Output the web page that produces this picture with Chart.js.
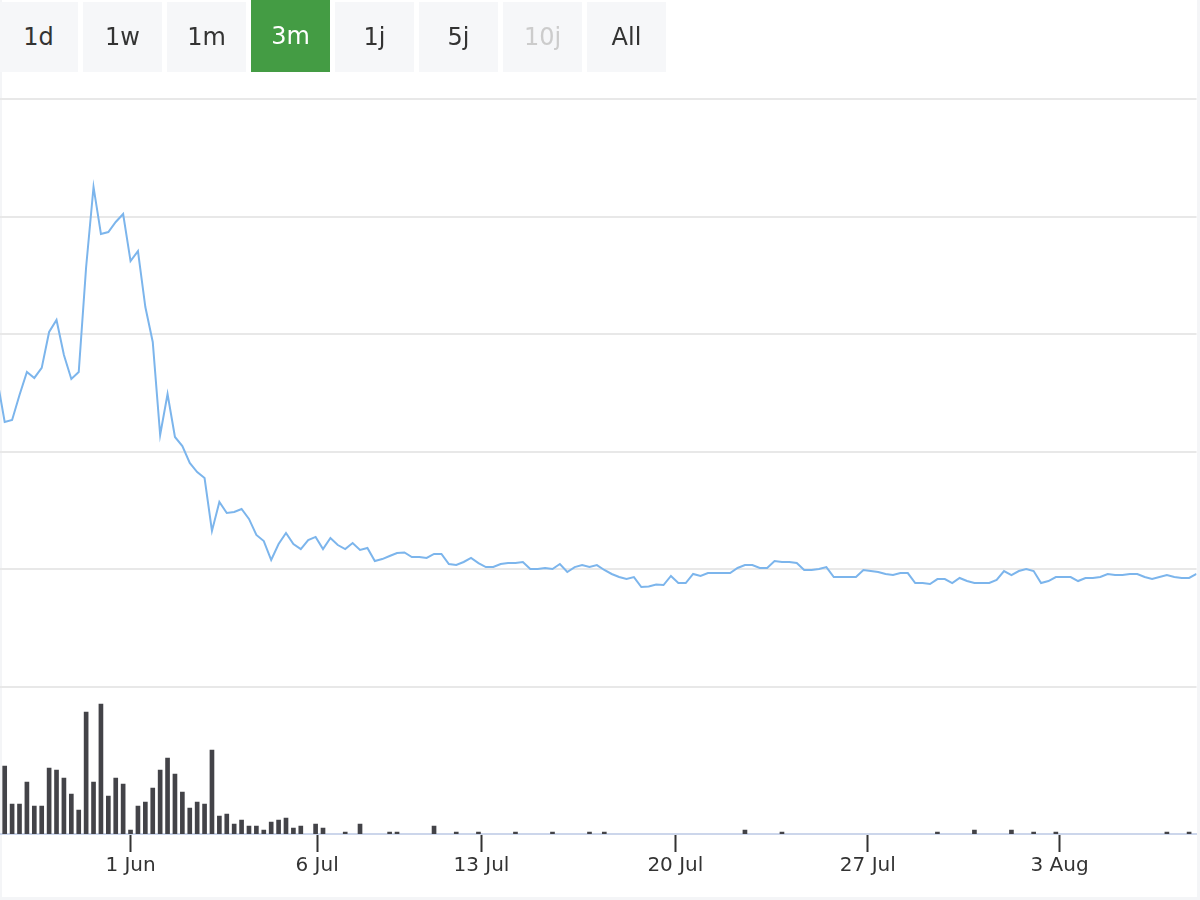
<!DOCTYPE html>
<html>
<head>
<meta charset="utf-8">
<script src="https://cdn.jsdelivr.net/npm/chart.js@4"></script>
<style>
    body { margin: 0; background: #fff; font-family: "DejaVu Sans", sans-serif; }
    #wrap { position: relative; width: 1200px; height: 900px; overflow: hidden; }
    #frame { position: absolute; left: 0; top: 0; width: 1195px; height: 897px;
             border-left: 2px solid #f4f5f7; border-right: 3px solid #f4f5f7; border-bottom: 3px solid #f4f5f7; }
    #chart { position: absolute; left: 0; top: 0; }
    .rng { position: absolute; top: 2px; height: 70px; width: 79px; background: #f6f7f9; color: #333;
           font-size: 24px; display: flex; align-items: center; justify-content: center; }
    .rng.on { top: 0; height: 72px; background: #449c44; color: #fff; }
    .rng.off { color: #ccc; }
</style>
</head>
<body>
<div id="wrap">
    <div id="frame"></div>
    <canvas id="chart" width="1200" height="900"></canvas>
</div>
<script>
// range buttons
const buttons = ['1d', '1w', '1m', '3m', '1j', '5j', '10j', 'All'];
const selected = '3m';
const disabled = ['10j'];

// x axis ticks (positions in data points, the axis is ordinal)
const tickPos = [17, 42.2, 64.4, 90.6, 116.6, 142.5];
const tickLabels = ['1 Jun', '6 Jul', '13 Jul', '20 Jul', '27 Jul', '3 Aug'];

// price line, first value is the point just left of the visible range
const prices = [
    26.11, 22.53, 22.70, 24.83, 26.79, 26.28, 27.13, 30.19, 31.21, 28.23, 26.19, 26.79,
    35.71, 42.52, 38.52, 38.69, 39.54, 40.22, 36.22, 37.07, 32.31, 29.34, 21.43, 24.91,
    21.26, 20.49, 19.05, 18.28, 17.77, 13.27, 15.73, 14.80, 14.88, 15.14, 14.29, 12.93,
    12.41, 10.80, 12.16, 13.10, 12.16, 11.73, 12.50, 12.76, 11.73, 12.67, 12.07, 11.73,
    12.24, 11.65, 11.82, 10.71, 10.88, 11.14, 11.39, 11.44, 11.05, 11.05, 10.97, 11.31,
    11.31, 10.46, 10.37, 10.63, 10.97, 10.54, 10.20, 10.20, 10.46, 10.54, 10.54, 10.63,
    10.03, 10.03, 10.12, 10.03, 10.46, 9.78, 10.20, 10.37, 10.20, 10.37, 9.95, 9.61,
    9.35, 9.18, 9.35, 8.50, 8.55, 8.72, 8.67, 9.44, 8.84, 8.84, 9.61, 9.44,
    9.69, 9.69, 9.69, 9.69, 10.12, 10.37, 10.37, 10.12, 10.12, 10.71, 10.63, 10.63,
    10.54, 9.95, 9.95, 10.03, 10.20, 9.35, 9.35, 9.35, 9.35, 9.95, 9.86, 9.78,
    9.61, 9.52, 9.69, 9.69, 8.84, 8.84, 8.76, 9.18, 9.18, 8.84, 9.27, 9.01,
    8.84, 8.84, 8.84, 9.10, 9.86, 9.52, 9.86, 10.03, 9.86, 8.84, 9.01, 9.35,
    9.35, 9.35, 9.01, 9.27, 9.27, 9.35, 9.61, 9.52, 9.52, 9.61, 9.61, 9.35,
    9.18, 9.35, 9.52, 9.35, 9.27, 9.27, 9.61
];

// volume bars, one per visible point
const volumes = [
    68, 30, 30, 52, 28, 28, 66, 64, 56, 40, 24, 122, 52, 130, 38, 56, 50, 4, 28, 32,
    46, 64, 76, 60, 42, 26, 32, 30, 84, 18, 20, 10, 14, 8, 8, 4, 12, 14, 16, 6,
    8, 0, 10, 6, 0, 0, 2, 0, 10, 0, 0, 0, 2, 2, 0, 0, 0, 0, 8, 0,
    0, 2, 0, 0, 2, 0, 0, 0, 0, 2, 0, 0, 0, 0, 2, 0, 0, 0, 0, 2,
    0, 2, 0, 0, 0, 0, 0, 0, 0, 0, 0, 0, 0, 0, 0, 0, 0, 0, 0, 0,
    4, 0, 0, 0, 0, 2, 0, 0, 0, 0, 0, 0, 0, 0, 0, 0, 0, 0, 0, 0,
    0, 0, 0, 0, 0, 0, 2, 0, 0, 0, 0, 4, 0, 0, 0, 0, 4, 0, 0, 2,
    0, 0, 2, 0, 0, 0, 0, 0, 0, 0, 0, 0, 0, 0, 0, 0, 0, 2, 0, 0,
    2, 0
];

// buttons
const wrap = document.getElementById('wrap');
buttons.forEach(function (b, k) {
    const el = document.createElement('div');
    el.className = 'rng' + (b === selected ? ' on' : '') + (disabled.includes(b) ? ' off' : '');
    el.style.left = (-1 + 84 * k) + 'px';
    el.textContent = b;
    wrap.appendChild(el);
});

const priceData = prices.map((v, i) => ({ x: i - 1, y: v }));
const volData = volumes.map((v, i) => ({ x: i, y: v })).filter(p => p.y > 0);

new Chart(document.getElementById('chart').getContext('2d'), {
    data: {
        datasets: [{
            type: 'line',
            data: priceData,
            yAxisID: 'price',
            borderColor: '#7cb5ec',
            borderWidth: 2,
            pointRadius: 0,
            tension: 0
        }, {
            type: 'bar',
            data: volData,
            yAxisID: 'vol',
            backgroundColor: '#434348',
            barThickness: 4
        }]
    },
    options: {
        responsive: false,
        animation: false,
        events: [],
        layout: { padding: { top: 99, left: 0, right: 3.5, bottom: 0 } },
        plugins: { legend: { display: false }, tooltip: { enabled: false } },
        scales: {
            x: {
                type: 'linear',
                position: 'bottom',
                offset: false,
                min: -0.635,
                max: 161,
                afterBuildTicks: axis => { axis.ticks = tickPos.map(v => ({ value: v })); },
                afterFit: axis => { axis.height = 66; },
                grid: { offset: false, drawOnChartArea: false, drawTicks: true, tickLength: 18, tickColor: '#333', tickWidth: 2 },
                border: { color: '#ccd6eb', width: 2 },
                ticks: {
                    autoSkip: false,
                    maxRotation: 0,
                    padding: 2,
                    color: '#333',
                    font: { family: 'DejaVu Sans', size: 20 },
                    callback: (v, i) => tickLabels[i]
                }
            },
            vol: {
                type: 'linear',
                position: 'left',
                stack: 'main',
                stackWeight: 1,
                min: 0,
                max: 147,
                afterFit: axis => { axis.width = 0; },
                grid: { display: false },
                border: { display: false },
                ticks: { display: false }
            },
            price: {
                type: 'linear',
                position: 'left',
                stack: 'main',
                stackWeight: 4,
                min: 0,
                max: 50,
                afterFit: axis => { axis.width = 0; },
                grid: { color: '#e8e8e8', lineWidth: 2, drawTicks: false },
                border: { display: false },
                ticks: { display: false, stepSize: 10 }
            }
        }
    }
});
</script>
</body>
</html>
